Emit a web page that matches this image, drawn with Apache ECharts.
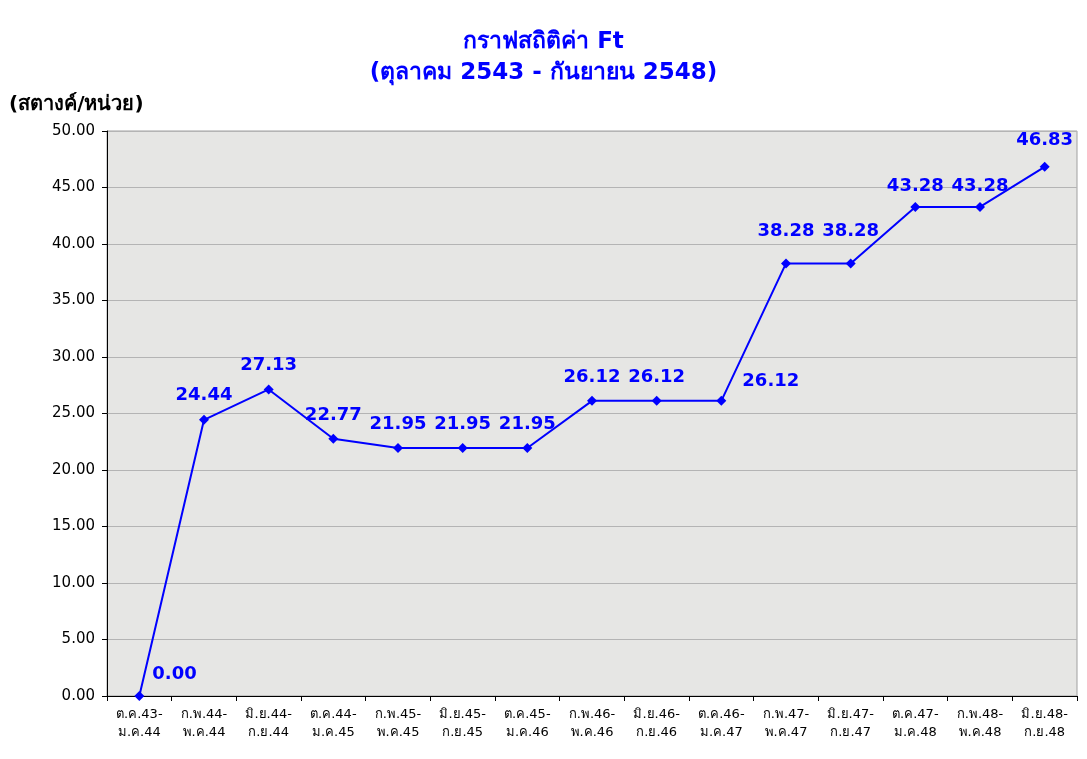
<!DOCTYPE html>
<html><head><meta charset="utf-8">
<script src="https://cdn.jsdelivr.net/npm/echarts@6/dist/echarts.min.js"></script>
<style>html,body{margin:0;padding:0;background:#fff}#c{width:1087px;height:759px}</style>
</head><body><div id="c"></div>
<script>
const categories = ["ต.ค.43-\nม.ค.44","ก.พ.44-\nพ.ค.44","มิ.ย.44-\nก.ย.44","ต.ค.44-\nม.ค.45","ก.พ.45-\nพ.ค.45","มิ.ย.45-\nก.ย.45","ต.ค.45-\nม.ค.46","ก.พ.46-\nพ.ค.46","มิ.ย.46-\nก.ย.46","ต.ค.46-\nม.ค.47","ก.พ.47-\nพ.ค.47","มิ.ย.47-\nก.ย.47","ต.ค.47-\nม.ค.48","ก.พ.48-\nพ.ค.48","มิ.ย.48-\nก.ย.48"];
const ftValues = [0.00,24.44,27.13,22.77,21.95,21.95,21.95,26.12,26.12,26.12,38.28,38.28,43.28,43.28,46.83];
const titleText = "กราฟสถิติค่า Ft\n(ตุลาคม 2543 - กันยายน 2548)";
const yUnit = "(สตางค์/หน่วย)";
const FONT = "Tahoma, 'DejaVu Sans', 'Noto Sans', sans-serif";

const labelOffsets = {0:{position:'right',offset:[-2,-22]},3:{offset:[0,1]},9:{position:'right',offset:[6,-20]},10:{offset:[0,-8]},11:{offset:[0,-8]},12:{offset:[0,3]},13:{offset:[0,3]},14:{offset:[0,-2]}};
const data = ftValues.map((v,i)=>{
  const d = {value:v};
  if(labelOffsets[i]) d.label = labelOffsets[i];
  return d;
});

const chart = echarts.init(document.getElementById('c'));
chart.setOption({
  backgroundColor:'#fff',
  animation:false,
  title:{text:titleText,left:'center',top:22,textStyle:{color:'#0000ff',fontWeight:'bold',fontSize:23,fontFamily:FONT,lineHeight:31}},
  grid:{left:107,right:10,top:131,bottom:63,show:true,backgroundColor:'#e6e6e4',borderColor:'#a0a0a0',borderWidth:1},
  xAxis:{type:'category',data:categories,boundaryGap:true,
    axisLine:{lineStyle:{color:'#000',width:1}},
    axisTick:{show:true,length:5,lineStyle:{color:'#000'}},
    axisLabel:{color:'#000',fontSize:13,fontFamily:FONT,lineHeight:18,margin:10,interval:0}},
  yAxis:{type:'value',min:0,max:50,interval:5,
    name:yUnit,nameLocation:'end',nameGap:0,
    nameTextStyle:{color:'#000',fontWeight:'bold',fontSize:20,fontFamily:FONT,align:'left',padding:[0,0,16,-98]},
    axisLine:{show:true,lineStyle:{color:'#000'}},
    axisTick:{show:true,length:5,lineStyle:{color:'#000'}},
    axisLabel:{color:'#000',fontSize:15,fontFamily:FONT,margin:12,formatter:v=>v.toFixed(2)},
    splitLine:{lineStyle:{color:'#b4b4b4',width:1}}},
  series:[{type:'line',data:data,symbol:'diamond',symbolSize:10,
    lineStyle:{color:'#0000ff',width:2},itemStyle:{color:'#0000ff'},
    label:{show:true,position:'top',distance:10,color:'#0000ff',fontWeight:'bold',fontSize:18,fontFamily:FONT,formatter:p=>p.value.toFixed(2)}}]
});
</script></body></html>
